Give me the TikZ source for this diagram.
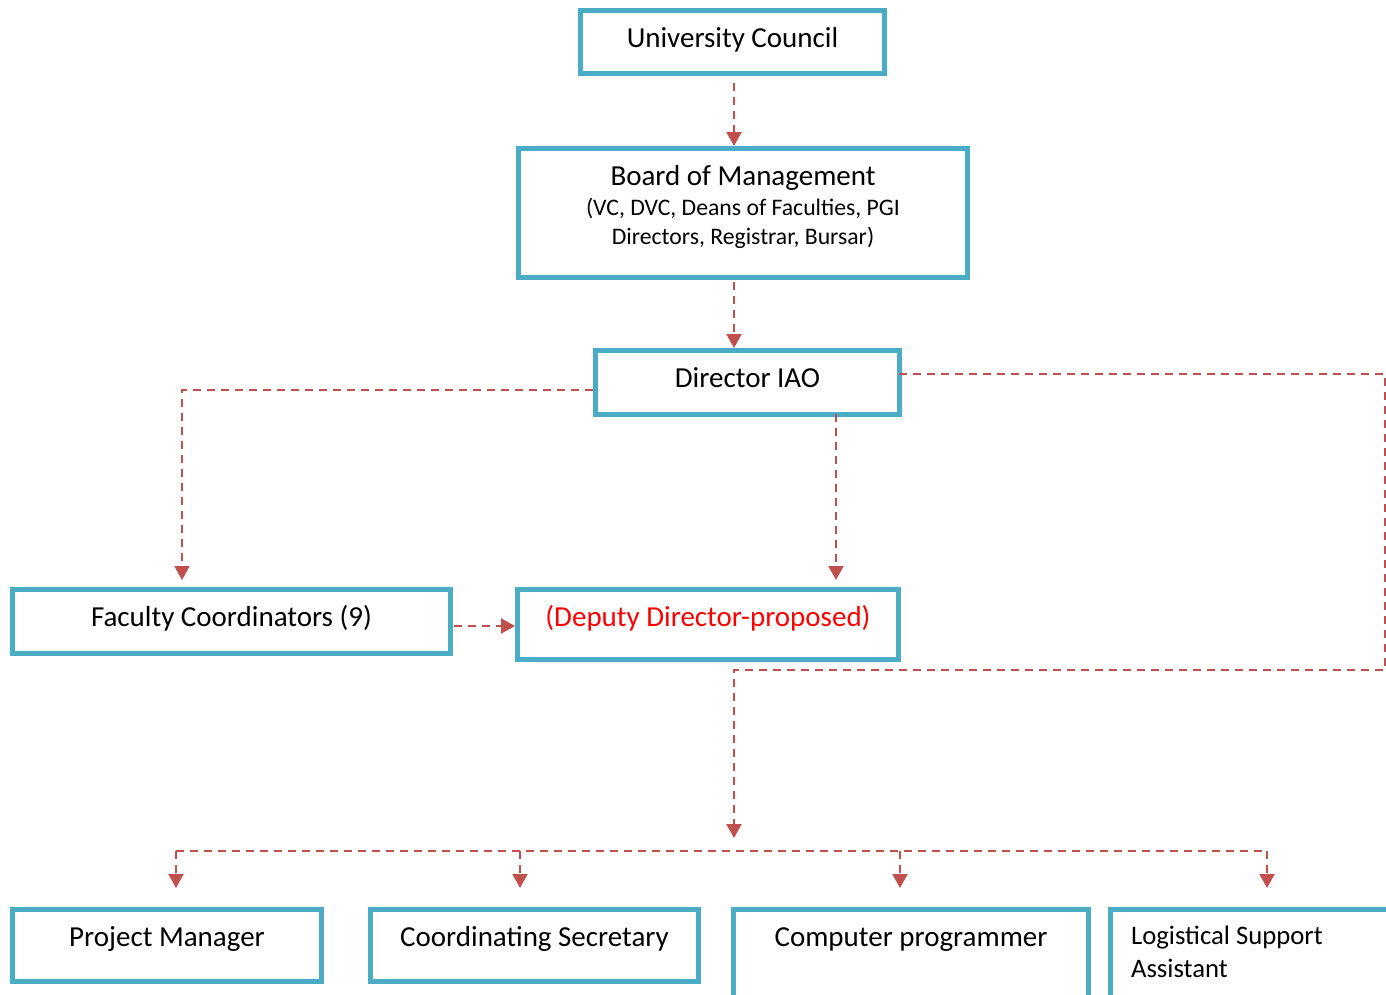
\documentclass[tikz,border=0pt]{standalone}
\usepackage{fontspec}
\setmainfont{Carlito}
\usetikzlibrary{arrows.meta}
\definecolor{boxblue}{HTML}{4BACC6}
\definecolor{linkred}{HTML}{C0504D}
\definecolor{propred}{HTML}{FF0000}
\newcommand\subfont{\fontsize{13.5}{16.4}\selectfont}

\begin{document}
\begin{tikzpicture}[x=0.02cm,y=-0.02cm,
  unit/.style={draw=boxblue,line width=0.1cm,fill=white,anchor=north,outer sep=0pt,
    inner xsep=0pt,inner ysep=0pt,text height=0.74cm,align=center,
    font=\fontsize{16.5}{16.8}\selectfont},
  dline/.style={draw=linkred,line width=0.04cm,dash pattern=on 0.16cm off 0.12cm},
  link/.style={dline,-{Triangle[width=0.3cm,length=0.28cm]},shorten >=0.05cm}]
  \useasboundingbox (0,0) rectangle (1386,994);
  \clip (0,0) rectangle (1386,994);

  \node[unit,minimum width=6.08cm,text depth=0.52cm] (uc) at (732.5,10.5) {University Council};
  \node[unit,minimum width=8.98cm,text height=1.93cm,text depth=0.65cm] (bom) at (743,148.5)
    {Board of Management\\{\subfont (VC, DVC, Deans of Faculties, PGI}\\{\subfont Directors, Registrar, Bursar)}};
  \node[unit,minimum width=6.08cm,text depth=0.54cm] (dir) at (747.5,350.5) {Director IAO};
  \node[unit,minimum width=8.76cm,text depth=0.54cm] (fac) at (231.5,589.5) {Faculty Coordinators (9)};
  \node[unit,minimum width=7.62cm,text depth=0.66cm,text=propred] (dep) at (708,589.5) {(Deputy Director-proposed)};
  \node[unit,minimum width=6.18cm,text depth=0.70cm] (pm) at (167,909.5) {Project Manager};
  \node[unit,minimum width=6.56cm,text depth=0.70cm] (cs) at (534.5,909.5) {Coordinating Secretary};
  \node[unit,minimum width=7.10cm,text depth=1.5cm] (cp) at (911,909.5) {Computer programmer};
  \node[unit,text width=5.58cm,inner xsep=0.41cm,align=flush left,text height=0.70cm,text depth=1.5cm,
    font=\fontsize{15.2}{18.7}\selectfont] (lsa) at (1270.5,909.5)
    {Logistical Support\\Assistant};

  % bends of the dashed lines
  \coordinate (fk) at (182,390);
  \coordinate (dk) at (836,0);
  \coordinate (rk) at (1385,374);
  \coordinate (rb) at (1385,670);
  \coordinate (hub) at (734,838);
  \coordinate (fd) at (0,626);

  \draw[link,shorten <=0.19cm] (uc.south -| hub) -- (bom.north -| hub);
  \draw[link,shorten <=0.1cm] (bom.south -| hub) -- (dir.north -| hub);
  \draw[link,shorten <=0.05cm,shorten >=0.19cm] (dir.west |- fk) -- (fk) -- (fk |- fac.north);
  \draw[link,shorten >=0.19cm] (dir.south -| dk) -- (dep.north -| dk);
  \draw[link,shorten >=0pt] (dir.east |- rk) -- (rk) -- (rb) -- (rb -| hub) -- (hub);
  \draw[link,shorten <=0.08cm] (fac.east |- fd) -- (dep.west |- fd);

  \foreach \n/\x in {pm/176,cs/520,cp/900,lsa/1267}
    \coordinate (k\n) at (\x,851);
  \draw[dline] (kpm) -- (klsa);
  \foreach \n in {pm,cs,cp,lsa}
    \draw[link,shorten >=0.43cm] (k\n) -- (k\n |- \n.north);
\end{tikzpicture}
\end{document}
